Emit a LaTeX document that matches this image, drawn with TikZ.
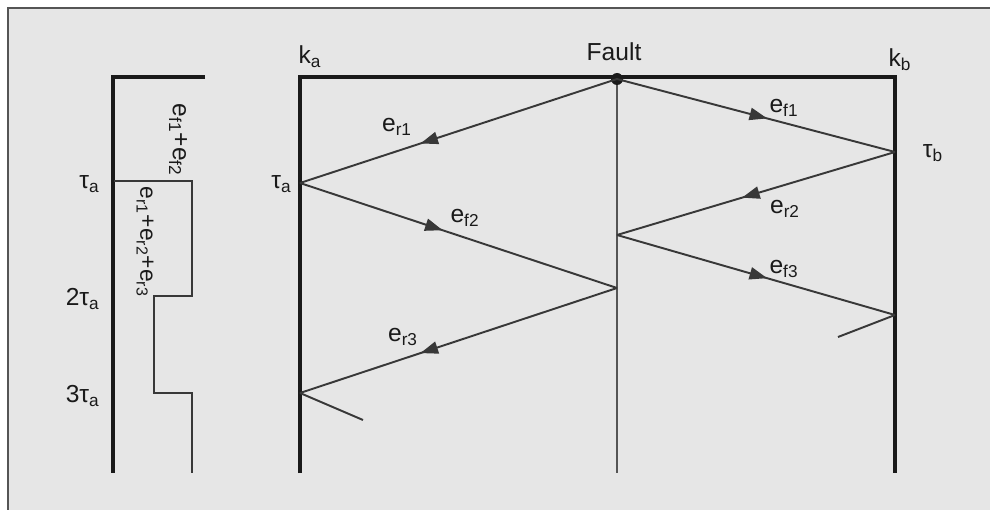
\documentclass[tikz,border=0pt]{standalone}
\usepackage{fontspec}
\setmainfont{Liberation Sans}
\usepackage{tikz}
\usetikzlibrary{arrows.meta,decorations.markings}

\definecolor{panel}{HTML}{E6E6E6}
\definecolor{frameline}{HTML}{555555}
\definecolor{inkline}{HTML}{1A1A1A}
\definecolor{rayline}{HTML}{383838}

\begin{document}
\begin{tikzpicture}[x=0.02cm, y=-0.02cm,
    bus/.style={line width=2.2pt, color=inkline},
    ray/.style={line width=1.1pt, color=rayline},
    stairs/.style={line width=1.3pt, color=rayline},
    midarrow/.style={postaction={decorate}, decoration={markings,
        mark=at position #1 with {\arrow{Triangle[length=10pt,width=7pt]}}}},
    lbl/.style={inner sep=0pt, font=\fontsize{14}{16}\selectfont, color=inkline}]
    \useasboundingbox (0,0) rectangle (990,510);
    \fill[panel] (8,8) rectangle (990,510);
    \draw[frameline, line width=1.6pt] (8,510) -- (8,8) -- (990,8);

    % voltage at relay a
    \coordinate (p0) at (113,77);
    \coordinate (p1) at (205,77);
    \coordinate (pend) at (113,473);
    \draw[bus] (p1) -- (p0) -- (pend);
    \draw[stairs] (114,181) -- (192,181) -- (192,296) -- (154,296)
        -- (154,393) -- (192,393) -- (192,473);
    \node[lbl, anchor=east] (t1) at (100,184) {τ\textsubscript{a}};
    \node[lbl, anchor=east] (t2) at (100,299) {2τ\textsubscript{a}};
    \node[lbl, anchor=east] (t3) at (100,396) {3τ\textsubscript{a}};
    \node[lbl, rotate=-90] (sum1) at (178,140) {e\textsubscript{f1}+e\textsubscript{f2}};
    \node[lbl, rotate=-90, font=\fontsize{13}{15}\selectfont] (sum2) at (145,242)
        {e\textsubscript{r1}+e\textsubscript{r2}+e\textsubscript{r3}};

    % line between ka and kb
    \coordinate (ka0) at (300,77);
    \coordinate (ka1) at (300,183);
    \coordinate (ka2) at (300,393);
    \coordinate (kaend) at (300,473);
    \coordinate (f0) at (617,79);
    \coordinate (f1) at (617,235);
    \coordinate (f2) at (617,288);
    \coordinate (fend) at (617,473);
    \coordinate (kb0) at (895,77);
    \coordinate (kb1) at (895,152);
    \coordinate (kb2) at (895,315);
    \coordinate (kbend) at (895,473);
    \coordinate (taila) at (363,420);
    \coordinate (tailb) at (838,337);

    \draw[bus] (kaend) -- (ka0) -- (kb0) -- (kbend);
    \draw[line width=1.6pt, color=frameline] (f0) -- (fend);
    \fill[inkline] (f0) circle (6);

    \draw[ray, midarrow=0.62] (f0) -- (ka1);
    \draw[ray, midarrow=0.45] (ka1) -- (f2);
    \draw[ray, midarrow=0.62] (f2) -- (ka2);
    \draw[ray] (ka2) -- (taila);
    \draw[ray, midarrow=0.54] (f0) -- (kb1);
    \draw[ray, midarrow=0.55] (kb1) -- (f1);
    \draw[ray, midarrow=0.54] (f1) -- (kb2);
    \draw[ray] (kb2) -- (tailb);

    \node[lbl] (ka) at (310,57) {k\textsubscript{a}};
    \node[lbl] (fault) at (614,52) {Fault};
    \node[lbl] (kb) at (900,60) {k\textsubscript{b}};
    \node[lbl, anchor=east] (taua) at (292,184) {τ\textsubscript{a}};
    \node[lbl] (taub) at (933,153) {τ\textsubscript{b}};
    \node[lbl] (er1) at (397,127) {e\textsubscript{r1}};
    \node[lbl] (ef2) at (465,218) {e\textsubscript{f2}};
    \node[lbl] (er3) at (403,337) {e\textsubscript{r3}};
    \node[lbl] (ef1) at (784,108) {e\textsubscript{f1}};
    \node[lbl] (er2) at (785,209) {e\textsubscript{r2}};
    \node[lbl] (ef3) at (784,269) {e\textsubscript{f3}};
\end{tikzpicture}
\end{document}
